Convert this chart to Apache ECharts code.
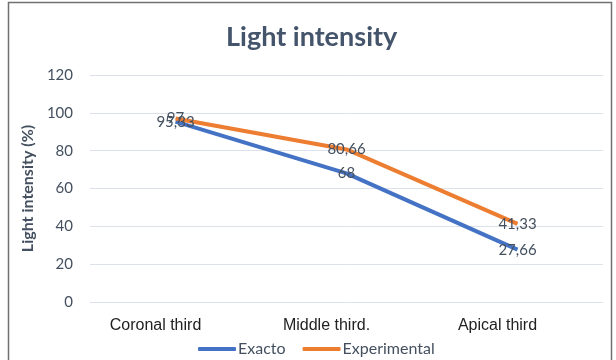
<!DOCTYPE html>
<html>
<head>
<meta charset="utf-8">
<script src="https://cdn.jsdelivr.net/npm/echarts@6/dist/echarts.min.js"></script>
<style>html,body{margin:0;padding:0;background:#fff}#c{width:616px;height:360px}</style>
</head>
<body>
<div id="c"></div>
<script>
const categories = ['Coronal third', 'Middle third.', 'Apical third'];
const exacto = [95.33, 68, 27.66];
const experimental = [97, 80.66, 41.33];
const yTicks = [0, 20, 40, 60, 80, 100, 120];

const chart = echarts.init(document.getElementById('c'), null, {renderer: 'canvas'});
const fmt = p => String(p.value).replace('.', ',');
const font = 'Lato, "Open Sans", sans-serif';
const labelStyle = {show: true, position: 'inside', formatter: fmt, color: '#44505f', fontSize: 15, fontFamily: font};
chart.setOption({
  animation: false,
  backgroundColor: '#fff',
  title: {
    text: 'Light intensity', left: 221, top: 19,
    textStyle: {fontSize: 27, fontWeight: 'bold', color: '#44546a', fontFamily: font}
  },
  graphic: [{type: 'rect', shape: {x: 8.5, y: 2.5, width: 603, height: 370}, style: {fill: 'none', stroke: '#707070', lineWidth: 1.5}, silent: true, z: 100}],
  grid: {left: 90, right: 13, top: 75, bottom: 58},
  legend: {
    bottom: -2, left: 193, itemWidth: 38, itemHeight: 4, itemGap: 17,
    icon: 'roundRect',
    textStyle: {fontSize: 16, color: '#44505f', fontFamily: font, padding: [0, 0, 0, -3]},
    data: [
      {name: 'Exacto', itemStyle: {color: '#4472c4', opacity: 1}},
      {name: 'Experimental', itemStyle: {color: '#ed7d31', opacity: 1}}
    ]
  },
  xAxis: {
    type: 'category', data: categories, boundaryGap: true,
    axisLine: {show: false}, axisTick: {show: false},
    axisLabel: {fontSize: 16, color: '#222', margin: 16, fontFamily: '"Liberation Sans", Arial, sans-serif', padding: [0, 40, 0, 0]}
  },
  yAxis: {
    type: 'value', min: yTicks[0], max: yTicks[yTicks.length - 1], interval: 20,
    name: 'Light intensity (%)', nameLocation: 'middle', nameGap: 45,
    nameTextStyle: {fontSize: 16, fontWeight: 'bold', color: '#44505f', fontFamily: font},
    axisLine: {show: false}, axisTick: {show: false},
    axisLabel: {fontSize: 15, color: '#44505f', margin: 17, fontFamily: font},
    splitLine: {lineStyle: {color: '#dde2ea', width: 1}}
  },
  series: [
    {name: 'Exacto', type: 'line', data: exacto, symbol: 'circle', symbolSize: 1, showSymbol: true,
     lineStyle: {width: 4, color: '#4472c4'}, itemStyle: {color: 'rgba(0,0,0,0)'}, label: labelStyle},
    {name: 'Experimental', type: 'line', data: experimental, symbol: 'circle', symbolSize: 1, showSymbol: true,
     lineStyle: {width: 4, color: '#ed7d31'}, itemStyle: {color: 'rgba(0,0,0,0)'}, label: labelStyle}
  ]
});
</script>
</body>
</html>
